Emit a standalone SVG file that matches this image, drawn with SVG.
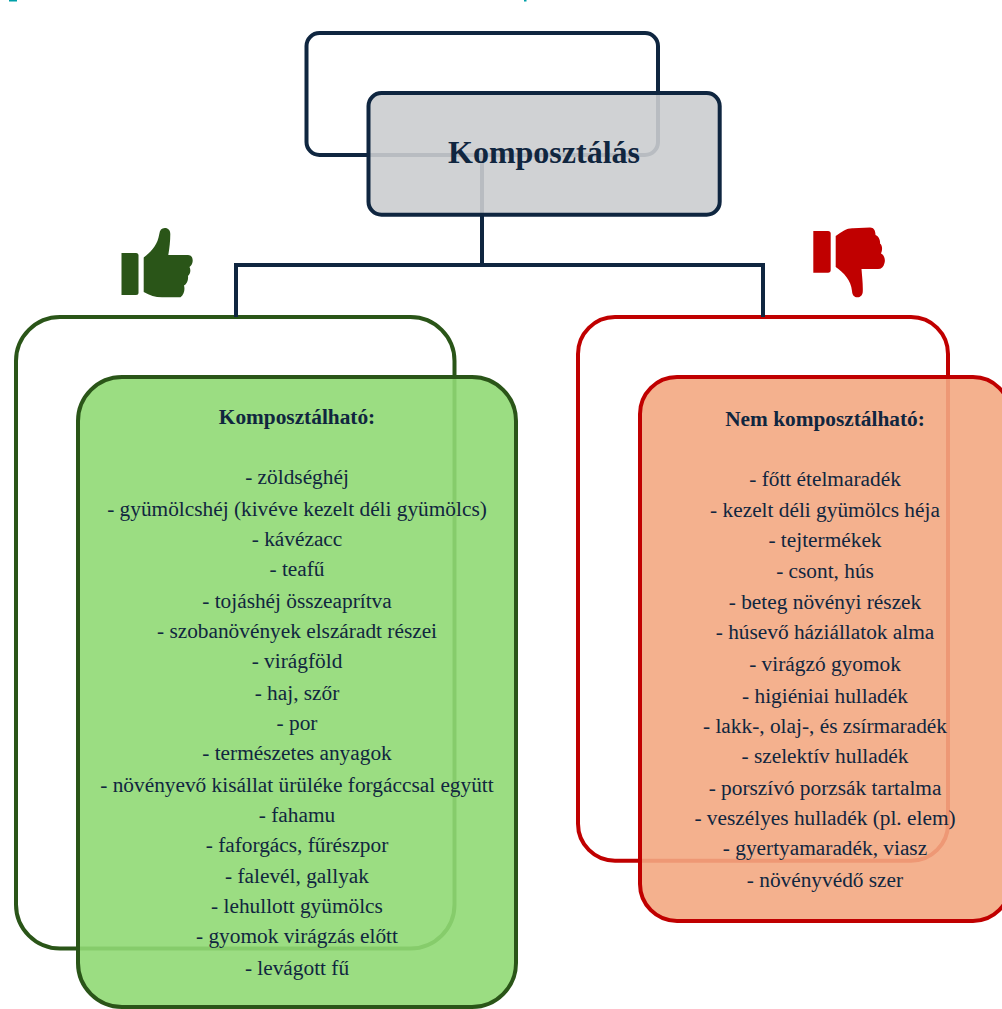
<svg xmlns="http://www.w3.org/2000/svg" width="1002" height="1009" viewBox="0 0 1002 1009">
<style>
.back{fill:none;stroke-width:4}
.front{stroke-width:4}
.navy{stroke:#0f2640}
.green{stroke:#2a5518}
.red{stroke:#c00000}
text{font-family:"Liberation Serif","Times New Roman",serif;fill:#10263f;text-anchor:middle}
.title{font-size:32px;font-weight:bold}
.head{font-size:21.33px;font-weight:bold}
.item{font-size:21.33px}
.conn{fill:none;stroke:#0f2640;stroke-width:4}
</style>
<rect width="1002" height="1009" fill="#fff"/>
<g id="top-edge-fragments" fill="#00a0a8"><rect x="9" y="0" width="8" height="1.5"/><rect x="524" y="0" width="2.5" height="1.5"/></g>
<g id="node-backs">
<rect class="back navy" x="306.5" y="33" width="351.5" height="122" rx="13"/>
<rect class="back green" x="16" y="317" width="438.5" height="631.5" rx="44"/>
<rect class="back red" x="578" y="317" width="370" height="543.7" rx="37"/>
</g>
<g id="connectors">
<path class="conn" d="M482 155V265"/>
<path class="conn" d="M236 317V265H763V317"/>
</g>
<g id="node-root">
<rect class="front navy" x="368.500" y="93" width="351.200" height="121.700" rx="13" fill="#cbcdcf" fill-opacity=".9"/>
<text class="title" x="544" y="163">Komposztálás</text>
</g>
<g id="node-compostable">
<rect class="front green" x="78" y="377" width="438" height="630" rx="44" fill="#90d974" fill-opacity=".9"/>
<text class="head" x="297" y="424">Komposztálható:</text>
<g class="item">
<text x="297" y="484">- zöldséghéj</text>
<text x="297" y="515.700">- gyümölcshéj (kivéve kezelt déli gyümölcs)</text>
<text x="297" y="545.700">- kávézacc</text>
<text x="297" y="575.700">- teafű</text>
<text x="297" y="607.700">- tojáshéj összeaprítva</text>
<text x="297" y="637.700">- szobanövények elszáradt részei</text>
<text x="297" y="667.700">- virágföld</text>
<text x="297" y="699.500">- haj, szőr</text>
<text x="297" y="730">- por</text>
<text x="297" y="760">- természetes anyagok</text>
<text x="297" y="791.700">- növényevő kisállat ürüléke forgáccsal együtt</text>
<text x="297" y="821.700">- fahamu</text>
<text x="297" y="851.700">- faforgács, fűrészpor</text>
<text x="297" y="883.300">- falevél, gallyak</text>
<text x="297" y="913">- lehullott gyümölcs</text>
<text x="297" y="943">- gyomok virágzás előtt</text>
<text x="297" y="975">- levágott fű</text>
</g>
</g>
<g id="node-noncompostable">
<rect class="front red" x="640" y="377" width="370" height="544" rx="37" fill="#f3a982" fill-opacity=".9"/>
<text class="head" x="825" y="426">Nem komposztálható:</text>
<g class="item">
<text x="825" y="485.700">- főtt ételmaradék</text>
<text x="825" y="517.300">- kezelt déli gyümölcs héja</text>
<text x="825" y="547.300">- tejtermékek</text>
<text x="825" y="577.700">- csont, hús</text>
<text x="825" y="609.300">- beteg növényi részek</text>
<text x="825" y="639.300">- húsevő háziállatok alma</text>
<text x="825" y="671">- virágzó gyomok</text>
<text x="825" y="702.700">- higiéniai hulladék</text>
<text x="825" y="732.700">- lakk-, olaj-, és zsírmaradék</text>
<text x="825" y="762.700">- szelektív hulladék</text>
<text x="825" y="795">- porszívó porzsák tartalma</text>
<text x="825" y="825">- veszélyes hulladék (pl. elem)</text>
<text x="825" y="855">- gyertyamaradék, viasz</text>
<text x="825" y="886.700">- növényvédő szer</text>
</g>
</g>
<g id="thumb-up" fill="#2a5518">
<path d="M121.500 253H136Q138.500 253 138.500 255.500V292.500Q138.500 295 136 295H121.500Z"/>
<path d="M143.700 257.500C152 251 157.500 245 159.300 234C159.800 230 161.500 228 164.800 228C168.300 228 170.300 230.500 170.300 234C170.300 241 169.500 248 168.300 255H188C191.500 255 192.800 258 192.700 261C192.500 264 191 266 189.500 267C191 270 190.500 273.500 188 276C188.500 280 187 284 184 285.500C185 289 184.500 294 180.500 297.300H162C155 297.300 150 295.500 143.700 292Z"/>
</g>
<g id="thumb-down" fill="#c00000">
<path d="M813.300 231H828Q830.700 231 830.700 233.500V270Q830.700 272.700 828 272.700H813.300Z"/>
<path d="M835.700 236C842 231.500 847 228 853 228.300L870 227.500C874 227.500 875.500 231 875.500 235C878.500 236 880.500 240 880 243.500C882 245 883 249 881 253.500C884.500 255 885.500 260 884.500 263C883.500 267 881.500 269 878 269H861.500C862 276 863 283 862.800 291C862.800 295 860.500 297.300 857.500 297.300C854 297.300 852.300 295 852 291C851 280 844 273 835.700 267Z"/>
</g>
</svg>
